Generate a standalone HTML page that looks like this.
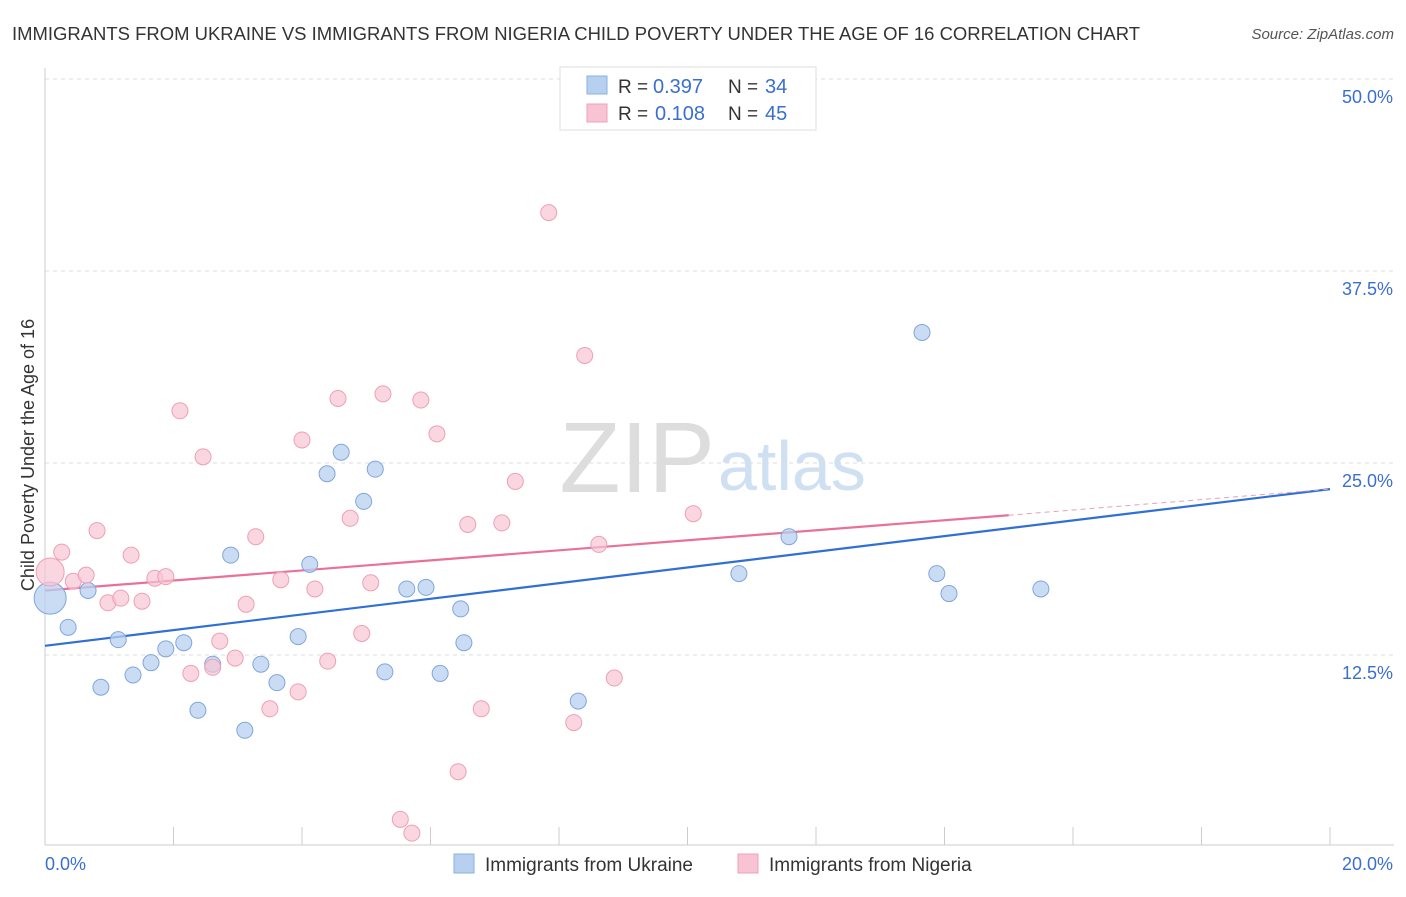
<!DOCTYPE html>
<html><head><meta charset="utf-8">
<style>
body{margin:0;background:#fff;font-family:"Liberation Sans",sans-serif;}
svg text{font-family:"Liberation Sans",sans-serif;}
</style></head>
<body>
<svg width="1406" height="892" id="chart">
<text x="12" y="40" font-size="18" fill="#333" textLength="1128" lengthAdjust="spacingAndGlyphs">IMMIGRANTS FROM UKRAINE VS IMMIGRANTS FROM NIGERIA CHILD POVERTY UNDER THE AGE OF 16 CORRELATION CHART</text>
<text x="1394" y="39" font-size="15" fill="#555" text-anchor="end" font-style="italic">Source: ZipAtlas.com</text>
<text x="715" y="492" font-size="100" fill="#ddd" text-anchor="end" font-family="Liberation Serif">ZIP</text>
<text x="718" y="490" font-size="70" fill="#cfe0f3">atlas</text>
<g id="grid"></g>
<g id="axes"></g>
<g id="lines"></g>
<g id="points"></g>
<text transform="translate(34,455) rotate(-90)" font-size="18" fill="#333" text-anchor="middle">Child Poverty Under the Age of 16</text>
<g>
<rect x="560" y="67" width="256" height="63" fill="#fff" stroke="#ddd"/>
<rect x="587" y="76" width="20" height="18" fill="#b8d0f0" stroke="#8ab0e0"/>
<rect x="587" y="104" width="20" height="18" fill="#f8c4d4" stroke="#f0a0b8"/>
<text x="618" y="93" font-size="19" fill="#333">R =</text>
<text x="653" y="93" font-size="20" fill="#3a6fd0">0.397</text>
<text x="728" y="93" font-size="19" fill="#333">N =</text>
<text x="765" y="93" font-size="20" fill="#3a6fd0">34</text>
<text x="618" y="120" font-size="19" fill="#333">R =</text>
<text x="655" y="120" font-size="20" fill="#3a6fd0">0.108</text>
<text x="728" y="120" font-size="19" fill="#333">N =</text>
<text x="765" y="120" font-size="20" fill="#3a6fd0">45</text>
</g>
<g>
<rect x="454" y="854" width="20" height="19" fill="#b8d0f0" stroke="#8ab0e0"/>
<text x="485" y="871" font-size="19" fill="#333">Immigrants from Ukraine</text>
<rect x="738" y="854" width="20" height="19" fill="#f8c4d4" stroke="#f0a0b8"/>
<text x="769" y="871" font-size="19" fill="#333">Immigrants from Nigeria</text>
</g>
</svg>
<script>
const yTicks=[12.5,25,37.5,50];
const yTickLabels=["12.5%","25.0%","37.5%","50.0%"];
const xTicks=[0,2,4,6,8,10,12,14,16,18,20];
const ukraineX=[0.08,0.36,0.67,0.87,1.14,1.37,1.65,1.88,2.16,2.38,2.61,2.89,3.11,3.36,3.61,3.94,4.12,4.39,4.61,4.96,5.14,5.29,5.63,5.93,6.15,6.47,6.52,8.30,10.80,11.58,13.65,13.88,14.07,15.50];
const ukraineY=[16.2,14.3,16.7,10.4,13.5,11.2,12.0,12.9,13.3,8.9,11.9,19.0,7.6,11.9,10.7,13.7,18.4,24.3,25.7,22.5,24.6,11.4,16.8,16.9,11.3,15.5,13.3,9.5,17.8,20.2,33.5,17.8,16.5,16.8];
const nigeriaX=[0.08,0.26,0.44,0.64,0.81,0.98,1.18,1.34,1.51,1.71,1.88,2.10,2.27,2.46,2.61,2.72,2.96,3.13,3.28,3.50,3.67,3.94,4.00,4.20,4.40,4.56,4.75,4.93,5.07,5.26,5.53,5.71,5.85,6.10,6.43,6.58,6.79,7.11,7.32,7.84,8.23,8.40,8.62,8.86,10.09];
const nigeriaY=[17.9,19.2,17.3,17.7,20.6,15.9,16.2,19.0,16.0,17.5,17.6,28.4,11.3,25.4,11.7,13.4,12.3,15.8,20.2,9.0,17.4,10.1,26.5,16.8,12.1,29.2,21.4,13.9,17.2,29.5,1.8,0.9,29.1,26.9,4.9,21.0,9.0,21.1,23.8,41.3,8.1,32.0,19.7,11.0,21.7];
const blueLine=[[0,13.1],[20,23.3]];
const pinkLine=[[0,16.7],[15,21.6]];
const pinkDash=[[15,21.6],[20,23.3]];
const X=v=>45+v*64.25, Y=v=>847-v*15.36;
const NS="http://www.w3.org/2000/svg";
function mk(t,a,p){const e=document.createElementNS(NS,t);for(const k in a)e.setAttribute(k,a[k]);document.getElementById(p).appendChild(e);return e;}
yTicks.forEach((v,i)=>{
 const g=mk('line',{x1:45,x2:1394,y1:Y(v),y2:Y(v),stroke:'#ddd','stroke-dasharray':'4,4'},'grid');
 
 
 const t=mk('text',{x:1393,y:Y(v)+24,'font-size':18,fill:'#3a6fd0','text-anchor':'end'},'grid');
 t.textContent=yTickLabels[i];
 
 
});
const ax=mk('line',{x1:45,x2:1394,y1:845,y2:845,stroke:'#ccc'},'axes');


const ay=mk('line',{x1:45,x2:45,y1:68,y2:845,stroke:'#ccc'},'axes');


xTicks.forEach(v=>{const l=mk('line',{x1:X(v),x2:X(v),y1:827,y2:845,stroke:'#ccc'},'axes');
 
 });
const x0=mk('text',{x:45,y:870,'font-size':18,fill:'#3a6fd0'},'axes');x0.textContent="0.0%";


const x1=mk('text',{x:1393,y:870,'font-size':18,fill:'#3a6fd0','text-anchor':'end'},'axes');x1.textContent="20.0%";


function seg(p,c,d,n){const l=mk('line',{x1:X(p[0][0]),y1:Y(p[0][1]),x2:X(p[1][0]),y2:Y(p[1][1]),stroke:c,'stroke-width':d?1:2.2,'stroke-dasharray':d?'5,4':'none'},'lines');
 
 }
ukraineX.forEach((v,i)=>{const c=mk('circle',{cx:X(v),cy:Y(ukraineY[i]),r:i==0?16:8,fill:'#b8d0f0','fill-opacity':0.75,stroke:'#7fa6dc','stroke-width':1},'points');
 
 });
nigeriaX.forEach((v,i)=>{const c=mk('circle',{cx:X(v),cy:Y(nigeriaY[i]),r:i==0?14:8,fill:'#f8c4d4','fill-opacity':0.7,stroke:'#ee9fb8','stroke-width':1},'points');
 
 });
seg(blueLine,'#2f6fd6',false,'ukraine-trend-line');
seg(pinkLine,'#e8709a',false,'nigeria-trend-line');
seg(pinkDash,'#e8a0b8',true,'nigeria-trend-extension');
</script>
</body></html>
